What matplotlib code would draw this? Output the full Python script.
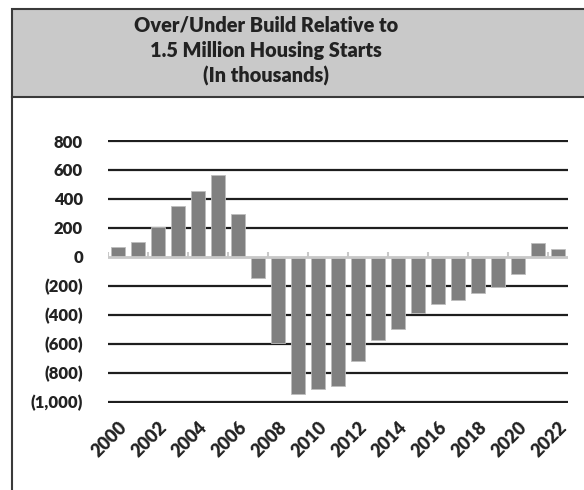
import matplotlib.pyplot as plt
from matplotlib.patches import Rectangle
from matplotlib.lines import Line2D
from matplotlib.transforms import ScaledTranslation

years = list(range(2000, 2023))
values = [65, 100, 203, 350, 455, 568, 299, -145, -593, -947, -912, -892,
          -717, -575, -497, -386, -326, -299, -248, -207, -119, 99, 53]
y_ticks = [800, 600, 400, 200, 0, -200, -400, -600, -800, -1000]
title_lines = ['Over/Under Build Relative to', '1.5 Million Housing Starts', '(In thousands)']

plt.rcParams['font.family'] = ['Lato', 'DejaVu Sans']


def fmt(v):
    # accounting style: negatives in brackets
    if v < 0:
        return '({:,})'.format(-v)
    return '{:,}'.format(v)


fig = plt.figure(figsize=(5.84, 4.9), dpi=100)
fig.patch.set_facecolor('white')

# title box + outer frame
fig.patches.append(Rectangle((12 / 584, 1 - 97 / 490), 1.0, 88 / 490, transform=fig.transFigure,
                             facecolor='#c9c9c9', edgecolor='#3a3a3a', linewidth=1.5))
fig.lines.append(Line2D([12 / 584, 12 / 584], [0, 1 - 97 / 490], transform=fig.transFigure,
                        color='#3a3a3a', linewidth=1.5))
for i, t in enumerate(title_lines):
    fig.text(266 / 584, 1 - (25 + i * 25.5) / 490, t, ha='center', va='center',
             fontsize=14.3, fontweight='heavy', color='#222222')

ax = fig.add_axes([108 / 584, 0.1772, (568 - 108) / 584, 0.538])
x = list(range(len(years)))
ax.bar(x, values, width=0.73, color='#808080', edgecolor='#bdbdbd', linewidth=0.6, zorder=3)

for v in y_ticks:
    if v != 0:
        ax.axhline(v, color='#1e1e1e', linewidth=1.6, zorder=1)
ax.axhline(0, color='#c8c8c8', linewidth=2, zorder=4)
bounds = [i - 0.5 for i in x if i % 2 == 0]
ax.vlines(bounds, 0, 35, color='#c8c8c8', linewidth=1.5, zorder=4)

ax.set_xlim(-0.5, 22.5)
ax.set_ylim(-1010, 810)
ax.set_yticks(y_ticks)
ax.set_yticklabels([fmt(v) for v in y_ticks], fontsize=12, fontweight='heavy', color='#222222')
ax.set_xticks(x[::2])
ax.set_xticklabels([str(y) for y in years[::2]], rotation=45, ha='right', rotation_mode='anchor',
                   fontsize=13, fontweight='heavy', color='#222222')
shift = ScaledTranslation(-6 / 72, 0, fig.dpi_scale_trans)
for lab in ax.get_xticklabels():
    lab.set_transform(lab.get_transform() + shift)
ax.tick_params(axis='y', length=0, pad=18)
ax.tick_params(axis='x', length=0, pad=11)
for s in ax.spines.values():
    s.set_visible(False)

fig.savefig('out.png', dpi=100)
